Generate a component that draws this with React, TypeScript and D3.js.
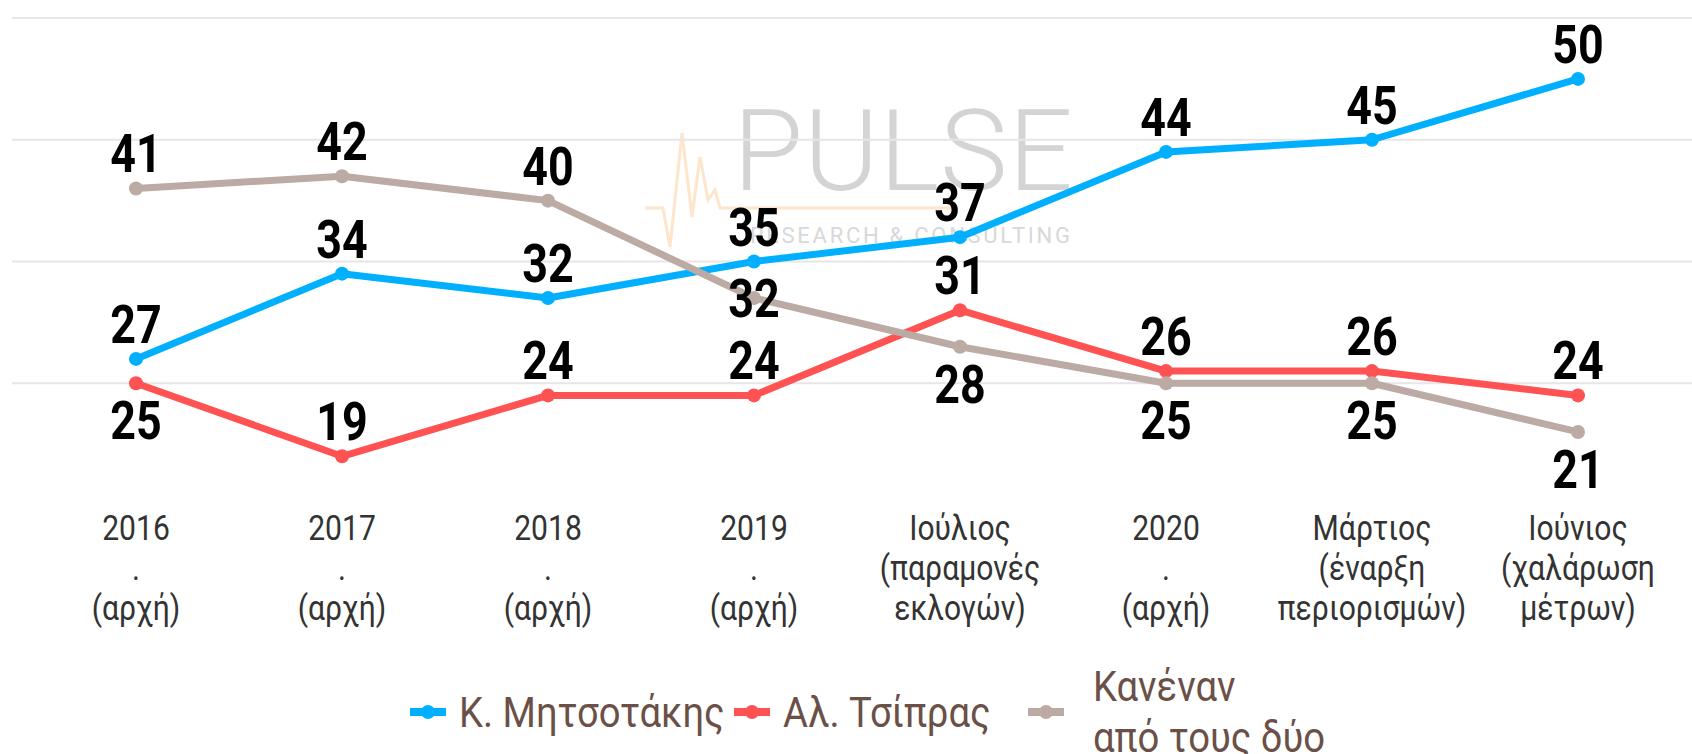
import React from "react";
import * as d3 from "d3";

const categories: string[][] = [
  ["2016", ".", "(αρχή)"],
  ["2017", ".", "(αρχή)"],
  ["2018", ".", "(αρχή)"],
  ["2019", ".", "(αρχή)"],
  ["Ιούλιος", "(παραμονές", "εκλογών)"],
  ["2020", ".", "(αρχή)"],
  ["Μάρτιος", "(έναρξη", "περιορισμών)"],
  ["Ιούνιος", "(χαλάρωση", "μέτρων)"],
];

const mitsotakis = [27, 34, 32, 35, 37, 44, 45, 50];
const tsipras = [25, 19, 24, 24, 31, 26, 26, 24];
const neither = [41, 42, 40, 32, 28, 25, 25, 21];

const mitsotakisLabelPos = ["above", "above", "above", "above", "above", "above", "above", "above"];
const tsiprasLabelPos = ["below", "above", "above", "above", "above", "above", "above", "above"];
const neitherLabelPos = ["above", "above", "above", "center", "below", "below", "below", "below"];

const gridValues = [25, 35, 45, 55];

const seriesNames = ["Κ. Μητσοτάκης", "Αλ. Τσίπρας", "Κανέναν\nαπό τους δύο"];

const W = 1692;
const H = 754;
const SX = 0.86;
const FONT = "Roboto, 'Noto Sans', sans-serif";

export default function App() {
  const keys = categories.map((_, i) => String(i));
  const x = d3.scalePoint<string>().domain(keys).range([136, 1578]);
  const y = d3.scaleLinear().domain([15, 55]).range([505, 18]);

  const series = [
    { name: seriesNames[0], values: mitsotakis, pos: mitsotakisLabelPos, color: "#00B0FF" },
    { name: seriesNames[1], values: tsipras, pos: tsiprasLabelPos, color: "#FF5252" },
    { name: seriesNames[2], values: neither, pos: neitherLabelPos, color: "#BCAAA4" },
  ];

  const line = d3
    .line<number>()
    .x((_, i) => x(String(i)) as number)
    .y((d) => y(d));

  const labelY = (v: number, pos: string) => {
    const py = y(v);
    if (pos === "above") return py - 16;
    if (pos === "below") return py + 56;
    return py + 19;
  };

  // watermark origin
  const wx = 620;
  const wy = 90;
  const pulse: [number, number][] = [
    [25, 118], [43, 118], [50, 157], [62, 43], [72, 127], [80, 67], [88, 110], [95, 100], [100, 118], [333, 118],
  ];

  const legendItems = [
    { x: 410, tx: 459, color: series[0].color, lines: [seriesNames[0]] },
    { x: 734, tx: 783, color: series[1].color, lines: [seriesNames[1]] },
    { x: 1028, tx: 1093, color: series[2].color, lines: seriesNames[2].split("\n") },
  ];

  return (
    <svg
      width={W}
      height={H}
      style={{ position: "absolute", left: 0, top: 0, background: "#fff" }}
      fontFamily={FONT}
    >
      <rect width={W} height={H} fill="#fff" />
      {/* watermark */}
      <g transform={`translate(${wx},${wy})`}>
        <path
          d={d3.line()(pulse) as string}
          fill="none"
          stroke="#FDE6CC"
          strokeWidth={3}
        />
        <text
          x={113}
          y={100}
          fontSize={114}
          fontWeight={300}
          fill="#d4d4d4"
          textLength={340}
          lengthAdjust="spacing"
        >
          PULSE
        </text>
        <text
          x={130}
          y={153}
          fontSize={22}
          fontWeight={400}
          fill="#d8d8d8"
          textLength={320}
          lengthAdjust="spacing"
        >
          RESEARCH &amp; CONSULTING
        </text>
      </g>

      {/* grid */}
      {gridValues.map((g) => (
        <line key={g} x1={12} x2={W} y1={y(g)} y2={y(g)} stroke="#e6e6e6" strokeWidth={2} />
      ))}

      {/* lines */}
      {series.map((s) => (
        <g key={s.name}>
          <path d={line(s.values) as string} fill="none" stroke={s.color} strokeWidth={7} strokeLinejoin="round" />
          {s.values.map((v, i) => (
            <circle key={i} cx={x(String(i)) as number} cy={y(v)} r={7} fill={s.color} />
          ))}
        </g>
      ))}

      {/* data labels */}
      {series.map((s) =>
        s.values.map((v, i) => (
          <g key={s.name + i} transform={`translate(${x(String(i))},${labelY(v, s.pos[i])}) scale(0.83,1)`}>
            <text textAnchor="middle" fontSize={54} fontWeight={700} fill="#000">
              {v}
            </text>
          </g>
        ))
      )}

      {/* x axis labels */}
      {categories.map((c, i) => (
        <g key={i} transform={`translate(${x(String(i))},540) scale(${SX},1)`}>
          {c.map((t, j) => (
            <text key={j} y={j * 40} textAnchor="middle" fontSize={35} fill="#333">
              {t}
            </text>
          ))}
        </g>
      ))}

      {/* legend */}
      {legendItems.map((it, k) => (
        <g key={k}>
          <line x1={it.x} x2={it.x + 36} y1={712} y2={712} stroke={it.color} strokeWidth={8} />
          <circle cx={it.x + 18} cy={712} r={7} fill={it.color} />
          <g transform={`translate(${it.tx},${it.lines.length === 1 ? 727 : 701}) scale(0.91,1)`}>
            {it.lines.map((t, j) => (
              <text key={j} y={j * 51} fontSize={42} fill="#6b5048">
                {t}
              </text>
            ))}
          </g>
        </g>
      ))}
    </svg>
  );
}
